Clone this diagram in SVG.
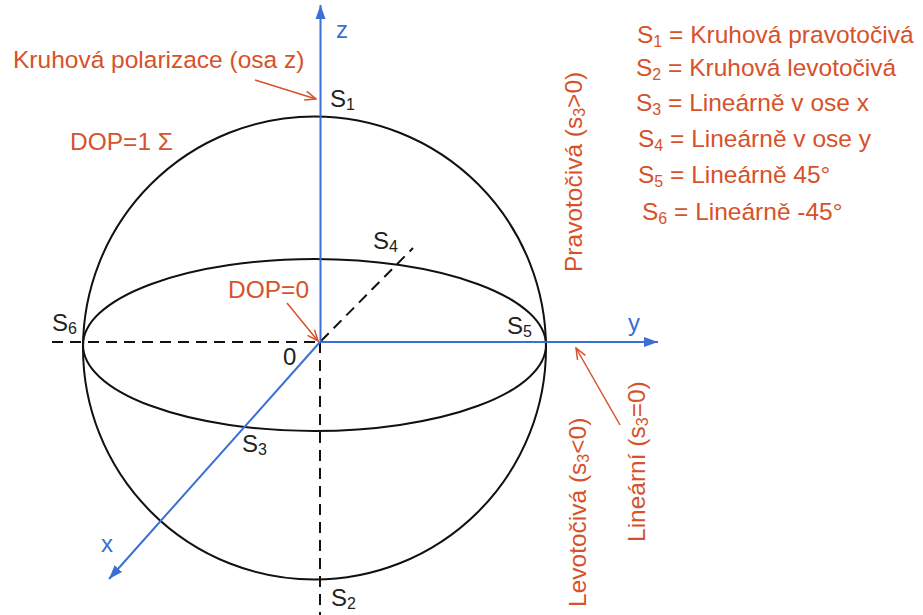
<svg xmlns="http://www.w3.org/2000/svg" width="923" height="615" viewBox="0 0 923 615">
<style>
.or{fill:#d6522a;font-family:"Liberation Sans",Arial,sans-serif;font-size:24.5px}
.bk{fill:#222;font-family:"Liberation Sans",Arial,sans-serif;font-size:24px}
.bl{fill:#3a6fd6;font-family:"Liberation Sans",Arial,sans-serif;font-size:24px}
.sph{fill:none;stroke:#111;stroke-width:2}
.dash{fill:none;stroke:#111;stroke-width:2;stroke-dasharray:11 7}
.axis{fill:none;stroke:#3a6fd6;stroke-width:2;marker-end:url(#ah)}
.ptr{fill:none;stroke:#d6522a;stroke-width:1.5;marker-end:url(#oh)}
</style>
<defs>
<marker id="ah" markerUnits="userSpaceOnUse" markerWidth="15" markerHeight="11" refX="14" refY="5.5" orient="auto" viewBox="0 0 15 11">
<path d="M0,0.5 L14,5.5 L0,10.5 z" fill="#3a6fd6"/>
</marker>
<marker id="oh" markerUnits="userSpaceOnUse" markerWidth="13" markerHeight="11" refX="12" refY="5.5" orient="auto" viewBox="0 0 13 11">
<path d="M1,1 L12,5.5 L1,10" fill="none" stroke="#d6522a" stroke-width="1.5"/>
</marker>
</defs>
<g id="sphere">
<circle class="sph" cx="314.5" cy="348" r="231.5"/>
<ellipse class="sph" cx="314.5" cy="345" rx="231.5" ry="86"/>
</g>
<g id="connectors">
<line class="dash" x1="52" y1="342" x2="320" y2="342"/>
<line class="dash" x1="320" y1="342" x2="320" y2="615"/>
<line class="dash" x1="321" y1="341" x2="413" y2="248"/>
<line class="axis" x1="320.5" y1="342" x2="320.5" y2="5"/>
<line class="axis" x1="320" y1="342" x2="658" y2="342"/>
<line class="axis" x1="320" y1="342" x2="109" y2="579"/>
<line class="ptr" x1="255" y1="80" x2="316" y2="99"/>
<line class="ptr" x1="287" y1="303" x2="318" y2="341"/>
<line class="ptr" x1="620" y1="425" x2="576" y2="348"/>
</g>
<g id="axis-labels">
<text class="bl" x="336" y="38">z</text>
<text class="bl" x="628" y="331">y</text>
<text class="bl" x="101" y="552">x</text>
</g>
<g id="point-labels">
<text class="bk" x="330" y="107">S<tspan font-size="16" dy="3">1</tspan></text>
<text class="bk" x="373" y="249">S<tspan font-size="16" dy="3">4</tspan></text>
<text class="bk" x="507" y="334">S<tspan font-size="16" dy="3">5</tspan></text>
<text class="bk" x="52" y="331">S<tspan font-size="16" dy="3">6</tspan></text>
<text class="bk" x="283" y="365">0</text>
<text class="bk" x="242" y="452">S<tspan font-size="16" dy="3">3</tspan></text>
<text class="bk" x="331" y="606">S<tspan font-size="16" dy="3">2</tspan></text>
</g>
<g id="annotations">
<text class="or" x="13" y="68">Kruhová polarizace (osa z)</text>
<text class="or" x="70" y="150">DOP=1 Σ</text>
<text class="or" x="228" y="298">DOP=0</text>
<text class="or" transform="translate(582,272) rotate(-90)">Pravotočivá (s<tspan font-size="16" dy="3">3</tspan><tspan dy="-3">&gt;0)</tspan></text>
<text class="or" transform="translate(586,607) rotate(-90)">Levotočivá (s<tspan font-size="16" dy="3">3</tspan><tspan dy="-3">&lt;0)</tspan></text>
<text class="or" transform="translate(645,542) rotate(-90)">Lineární (s<tspan font-size="16" dy="3">3</tspan><tspan dy="-3">=0)</tspan></text>
</g>
<g id="legend">
<text class="or" x="637" y="43">S<tspan font-size="16" dy="4">1</tspan><tspan dy="-4"> = Kruhová pravotočivá</tspan></text>
<text class="or" x="636" y="76">S<tspan font-size="16" dy="4">2</tspan><tspan dy="-4"> = Kruhová levotočivá</tspan></text>
<text class="or" x="636" y="111">S<tspan font-size="16" dy="4">3</tspan><tspan dy="-4"> = Lineárně v ose x</tspan></text>
<text class="or" x="638" y="147">S<tspan font-size="16" dy="4">4</tspan><tspan dy="-4"> = Lineárně v ose y</tspan></text>
<text class="or" x="638" y="183">S<tspan font-size="16" dy="4">5</tspan><tspan dy="-4"> = Lineárně 45°</tspan></text>
<text class="or" x="642" y="220">S<tspan font-size="16" dy="4">6</tspan><tspan dy="-4"> = Lineárně -45°</tspan></text>
</g>
</svg>
